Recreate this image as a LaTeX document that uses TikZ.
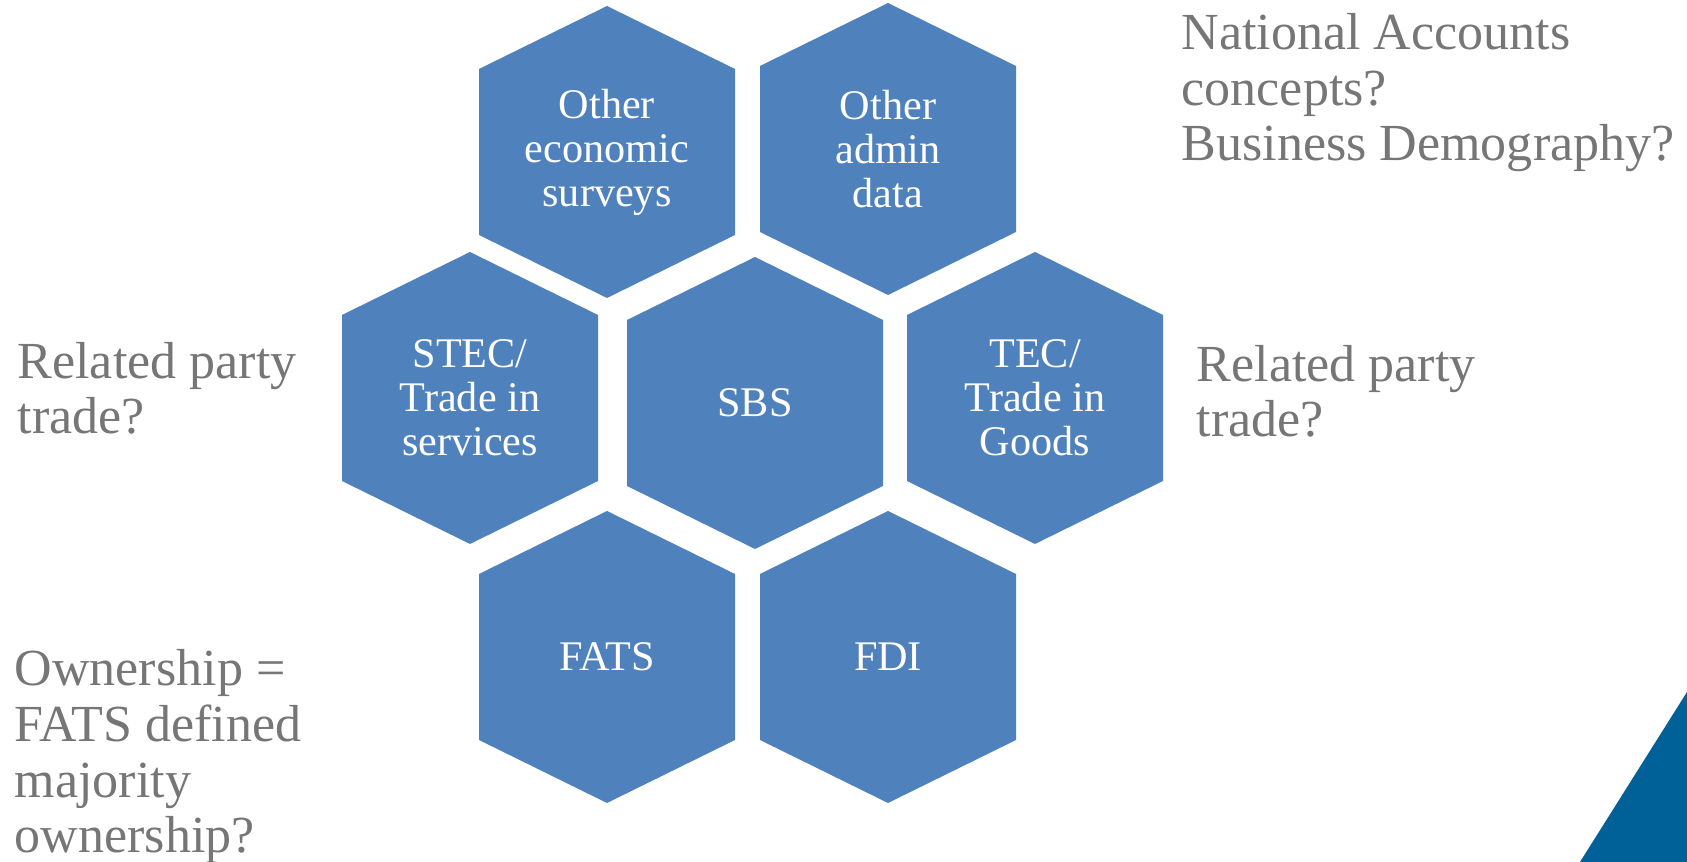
\documentclass[tikz,border=0pt]{standalone}
\usepackage{fontspec}
\setmainfont{Liberation Serif}
\usepackage{tikz}

\definecolor{hexblue}{RGB}{79,129,189}
\definecolor{notegray}{RGB}{118,118,118}
\definecolor{cornerblue}{RGB}{0,96,152}

% one honeycomb cell: name, centre, text
\newcommand{\hexcell}[3]{%
	\fill[hexblue] (#2) ++(0,-146) -- ++(128,63) -- ++(0,166) -- ++(-128,63) -- ++(-128,-63) -- ++(0,-166) -- cycle;
	\node[cell] (#1) at (#2) {#3};}

\begin{document}
\begin{tikzpicture}[x=0.01cm, y=-0.01cm]
	\tikzstyle{cell} = [text=white, align=center, inner sep=0, font=\fontsize{12}{12.5}\selectfont]
	\tikzstyle{note} = [text=notegray, align=left, anchor=base west, inner sep=0, font=\fontsize{14.8}{15.9}\selectfont]
	\useasboundingbox (0,0) rectangle (1687,862);
	\hexcell{othsurv}{607,152}{Other\\economic\\surveys}
	\hexcell{othadmin}{888,149}{Other\\admin\\data}
	\hexcell{stec}{470,398}{STEC/\\Trade in\\services}
	\hexcell{sbs}{755,403}{SBS}
	\hexcell{tec}{1035,398}{TEC/\\Trade in\\Goods}
	\hexcell{fats}{607,657}{FATS}
	\hexcell{fdi}{888,657}{FDI}
	% notes, placed by the baseline of their last line
	\node[note] (natacc) at (1181,161) {National Accounts\\concepts?\\Business Demography?};
	\node[note] (rptleft) at (17,434) {Related party\\trade?};
	\node[note] (rptright) at (1196,437) {Related party\\trade?};
	\node[note] (owner) at (14,853) {Ownership =\\FATS defined\\majority\\ownership?};
	\fill[cornerblue] (1687,692) -- (1580,862) -- (1687,862) -- cycle;
\end{tikzpicture}
\end{document}
